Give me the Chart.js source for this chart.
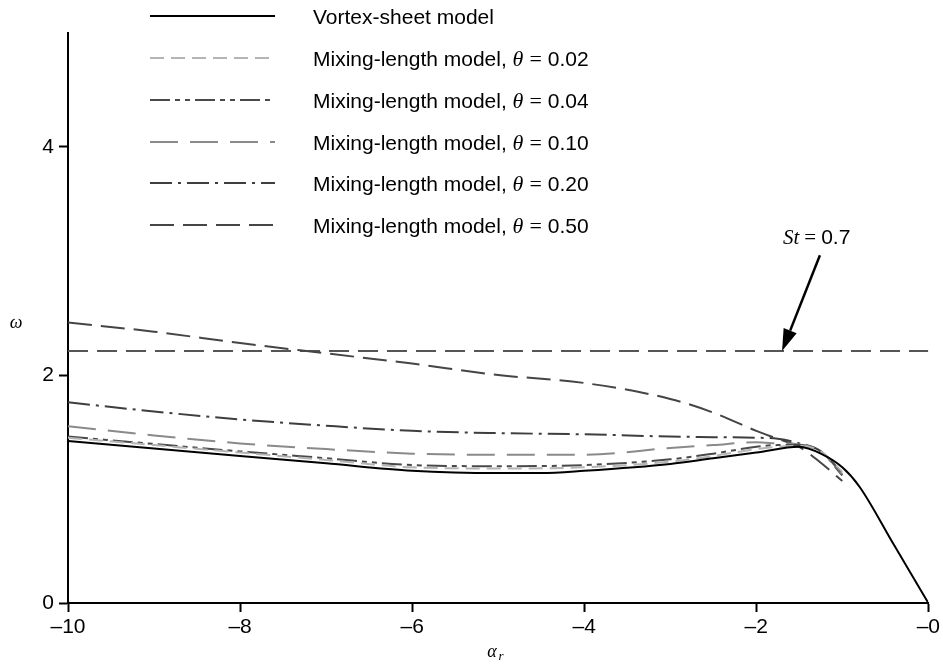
<!DOCTYPE html>
<html>
<head>
<meta charset="utf-8">
<script src="https://cdn.jsdelivr.net/npm/chart.js@4.4.0/dist/chart.umd.min.js"></script>
<style>
    body { margin: 0; background: #fff; }
</style>
</head>
<body>
<canvas id="myChart" width="943" height="669"></canvas>
<script>
// values
const alphaMix = [-10, -9, -8, -7, -6, -5, -4, -3, -2.5, -2, -1.75, -1.5, -1.25, -1.0];
const alphaVortex = [-10, -9, -8, -7, -6, -5, -4.5, -4, -3, -2.5, -2, -1.5, -1.25, -1.0, -0.8, -0.4, 0];

const omegaVortex = [1.42, 1.355, 1.29, 1.225, 1.16, 1.14, 1.14, 1.16, 1.22, 1.27, 1.32, 1.37, 1.31, 1.19, 1.02, 0.51, 0];
const omega002 = [1.45, 1.385, 1.32, 1.255, 1.19, 1.18, 1.19, 1.24, 1.29, 1.35, 1.37, 1.38, 1.33, 1.15];
const omega004 = [1.46, 1.395, 1.33, 1.27, 1.21, 1.20, 1.21, 1.26, 1.31, 1.37, 1.385, 1.385, 1.33, 1.14];
const omega010 = [1.55, 1.47, 1.40, 1.35, 1.31, 1.30, 1.30, 1.36, 1.385, 1.41, 1.40, 1.39, 1.33, 1.13];
const omega020 = [1.76, 1.68, 1.61, 1.555, 1.51, 1.49, 1.48, 1.46, 1.455, 1.45, 1.44, 1.40, 1.33, 1.12];
const omega050 = [2.46, 2.38, 2.28, 2.19, 2.10, 2.00, 1.93, 1.79, 1.67, 1.51, 1.44, 1.37, 1.23, 1.07];

const stAlpha = [-10, 0];
const stOmega = [2.21, 2.21];

const xTicks = [-10, -8, -6, -4, -2, 0];
const yTicks = [0, 2, 4];

const legendNames = ['Vortex-sheet model', 'Mixing-length model, ', 'Mixing-length model, ', 'Mixing-length model, ', 'Mixing-length model, ', 'Mixing-length model, '];
const legendTheta = ['', '0.02', '0.04', '0.10', '0.20', '0.50'];

const SANS = '"Liberation Sans", Arial, sans-serif';
const SERIF = '"Liberation Serif", "DejaVu Serif", serif';

function pts(xs, ys) {
    return xs.map((x, i) => ({ x: x, y: ys[i] }));
}

function series(label, xs, ys, color, dash, width) {
    return {
        label: label,
        data: pts(xs, ys),
        borderColor: color,
        borderDash: dash,
        borderWidth: width,
        showLine: true,
        pointRadius: 0,
        cubicInterpolationMode: 'monotone',
        fill: false
    };
}

let datasets = [
    series('vortex', alphaVortex, omegaVortex, '#000000', [], 2),
    series('0.02', alphaMix, omega002, '#b4b4b4', [14, 7], 2),
    series('0.04', alphaMix, omega004, '#4a4a4a', [20, 5, 5, 5, 5, 5], 2),
    series('0.10', alphaMix, omega010, '#8a8a8a', [28, 12], 2),
    series('0.20', alphaMix, omega020, '#3e3e3e', [22, 6, 3, 6], 2),
    series('0.50', alphaMix, omega050, '#454545', [24, 9], 2),
    series('st', stAlpha, stOmega, '#555555', [20, 9], 2)
];

// legend, annotation and axis titles
const extras = {
    id: 'extras',
    afterDraw(chart) {
        const ctx = chart.ctx;
        const xs = chart.scales.x, ys = chart.scales.y;
        ctx.save();

        // legend
        const rowY = [16, 58, 100, 142, 183, 225];
        for (let i = 0; i < 6; i++) {
            const ds = datasets[i];
            const y = rowY[i];
            ctx.beginPath();
            ctx.setLineDash(ds.borderDash);
            ctx.strokeStyle = ds.borderColor;
            ctx.lineWidth = ds.borderWidth;
            ctx.moveTo(150, y);
            ctx.lineTo(275, y);
            ctx.stroke();
            ctx.setLineDash([]);

            ctx.fillStyle = '#000';
            ctx.textBaseline = 'middle';
            ctx.textAlign = 'left';
            let tx = 313;
            ctx.font = '21px ' + SANS;
            ctx.fillText(legendNames[i], tx, y + 2);
            if (legendTheta[i] != '') {
                tx += ctx.measureText(legendNames[i]).width;
                ctx.font = 'italic 22px ' + SERIF;
                ctx.fillText('\u03B8', tx, y + 2);
                tx += ctx.measureText('\u03B8').width + 6;
                ctx.font = '22px ' + SERIF;
                ctx.fillText('=', tx, y + 2);
                tx += ctx.measureText('=').width + 6;
                ctx.font = '21px ' + SANS;
                ctx.fillText(legendTheta[i], tx, y + 2);
            }
        }

        // St = 0.7 arrow
        const tipX = xs.getPixelForValue(-1.7), tipY = ys.getPixelForValue(2.21);
        const tailX = xs.getPixelForValue(-1.26), tailY = ys.getPixelForValue(3.05);
        const ang = Math.atan2(tipY - tailY, tipX - tailX);
        const hl = 22, hw = 7;
        const bx = tipX - hl * Math.cos(ang), by = tipY - hl * Math.sin(ang);
        ctx.strokeStyle = '#000';
        ctx.lineWidth = 2.5;
        ctx.beginPath();
        ctx.moveTo(tailX, tailY);
        ctx.lineTo(bx, by);
        ctx.stroke();
        ctx.fillStyle = '#000';
        ctx.beginPath();
        ctx.moveTo(tipX, tipY);
        ctx.lineTo(bx + hw * Math.sin(ang), by - hw * Math.cos(ang));
        ctx.lineTo(bx - hw * Math.sin(ang), by + hw * Math.cos(ang));
        ctx.closePath();
        ctx.fill();

        let ax = 783, ay = 238;
        ctx.textBaseline = 'middle';
        ctx.font = 'italic 21px ' + SERIF;
        ctx.fillText('St', ax, ay);
        ax += ctx.measureText('St').width + 5;
        ctx.font = '21px ' + SERIF;
        ctx.fillText('=', ax, ay);
        ax += ctx.measureText('=').width + 5;
        ctx.font = '21px ' + SANS;
        ctx.fillText('0.7', ax, ay);

        // axis titles
        ctx.font = 'italic 18px ' + SERIF;
        ctx.textAlign = 'center';
        ctx.fillText('\u03C9', 16, 323);
        ctx.fillText('\u03B1', 492, 652);
        ctx.font = 'italic 13px ' + SERIF;
        ctx.fillText('r', 501, 657);

        ctx.restore();
    }
};

const config = {
    type: 'scatter',
    data: { datasets: datasets },
    options: {
        responsive: false,
        animation: false,
        layout: { padding: { top: 33, right: 12, left: 0, bottom: 0 } },
        plugins: {
            legend: { display: false },
            tooltip: { enabled: false }
        },
        scales: {
            x: {
                type: 'linear',
                min: -10,
                max: 0,
                afterBuildTicks: s => { s.ticks = xTicks.map(v => ({ value: v })); },
                afterFit: s => { s.height = 66; },
                ticks: {
                    color: '#000',
                    padding: 3,
                    maxRotation: 0,
                    font: { family: SANS, size: 21 },
                    callback: v => '\u2013' + Math.abs(v)
                },
                grid: { drawOnChartArea: false, color: '#000', tickLength: 9, tickWidth: 2 },
                border: { color: '#000', width: 2 }
            },
            y: {
                type: 'linear',
                min: 0,
                max: 5,
                afterBuildTicks: s => { s.ticks = yTicks.map(v => ({ value: v })); },
                afterFit: s => { s.width = 68; },
                ticks: {
                    color: '#000',
                    padding: 5,
                    font: { family: SANS, size: 21 }
                },
                grid: { drawOnChartArea: false, color: '#000', tickLength: 9, tickWidth: 2 },
                border: { color: '#000', width: 2 }
            }
        }
    },
    plugins: [extras]
};

var myChart = new Chart(document.getElementById('myChart'), config);
</script>
</body>
</html>
